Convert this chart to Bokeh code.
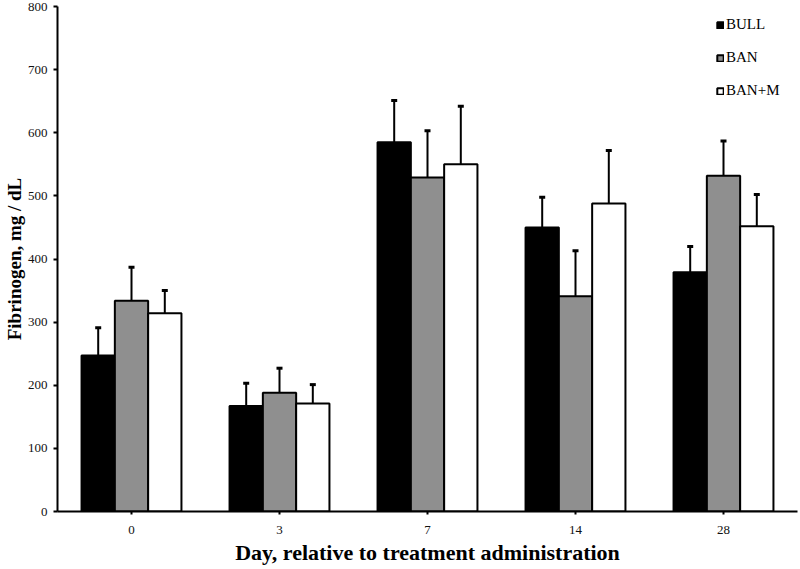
from bokeh.plotting import figure
from bokeh.models import ColumnDataSource, Whisker, TeeHead, Legend, LegendItem, FixedTicker, Range1d
from bokeh.transform import dodge
from bokeh.embed import file_html
from bokeh.resources import INLINE

days = ["0", "3", "7", "14", "28"]
bull = [247, 167, 585, 450, 379]
bull_sd = [44, 36, 66, 48, 41]
ban = [334, 188, 529, 341, 532]
ban_sd = [53, 39, 74, 72, 55]
banm = [314, 171, 550, 488, 452]
banm_sd = [36, 30, 92, 84, 50]
series_names = ["BULL", "BAN", "BAN+M"]
fills = ["#000000", "#8f8f8f", "#ffffff"]
yticks = [0, 100, 200, 300, 400, 500, 600, 700, 800]

FONT = "Liberation Serif"

p = figure(x_range=days, y_range=Range1d(0, 800), width=800, height=569,
           output_backend="svg", toolbar_location=None,
           min_border_left=57, min_border_right=3, min_border_top=6, min_border_bottom=58)
p.x_range.range_padding = 0

bw = 0.225
offsets = [-bw, 0.0, bw]
renderers = []
for vals, sds, off, col in zip([bull, ban, banm], [bull_sd, ban_sd, banm_sd], offsets, fills):
    src = ColumnDataSource(dict(day=days, top=vals, upper=[v + s for v, s in zip(vals, sds)]))
    r = p.vbar(x=dodge("day", off, range=p.x_range), top="top", width=bw, source=src,
               fill_color=col, line_color="black", line_width=2)
    renderers.append(r)
    w = Whisker(source=src, base=dodge("day", off, range=p.x_range), lower="top", upper="upper",
                line_color="black", line_width=2,
                upper_head=TeeHead(size=6, line_width=3, line_color="black"), lower_head=None)
    p.add_layout(w)

legend = Legend(items=[LegendItem(label=n, renderers=[r]) for n, r in zip(series_names, renderers)],
                location=(659, 412), glyph_width=8, glyph_height=8, label_standoff=2,
                spacing=16, padding=0, margin=0, border_line_color=None,
                background_fill_alpha=0, label_text_font=FONT, label_text_font_size="15px",
                label_text_color="black", label_height=12)
p.add_layout(legend)

p.xgrid.grid_line_color = None
p.ygrid.grid_line_color = None
p.outline_line_color = None

p.yaxis.ticker = FixedTicker(ticks=yticks)
p.yaxis.minor_tick_line_color = None
for ax in (p.xaxis, p.yaxis):
    ax.axis_line_width = 2
    ax.axis_line_color = "black"
    ax.major_tick_line_color = "black"
    ax.major_tick_line_width = 2
    ax.major_tick_in = 0
    ax.major_label_text_font = FONT
    ax.major_label_text_font_size = "13px"
    ax.major_label_text_color = "#111111"
p.yaxis.major_tick_out = 4
p.xaxis.major_tick_out = 3
p.yaxis.major_label_standoff = 6
p.xaxis.major_label_standoff = 11

p.yaxis.axis_label = "Fibrinogen, mg / dL"
p.yaxis.axis_label_text_font = FONT
p.yaxis.axis_label_text_font_style = "bold"
p.yaxis.axis_label_text_font_size = "19px"
p.yaxis.axis_label_text_color = "black"
p.yaxis.axis_label_standoff = 0

p.xaxis.axis_label = "Day, relative to treatment administration"
p.xaxis.axis_label_text_font = FONT
p.xaxis.axis_label_text_font_style = "bold"
p.xaxis.axis_label_text_font_size = "22px"
p.xaxis.axis_label_text_color = "black"
p.xaxis.axis_label_standoff = 3

open("out.html", "w").write(file_html(p, INLINE))
